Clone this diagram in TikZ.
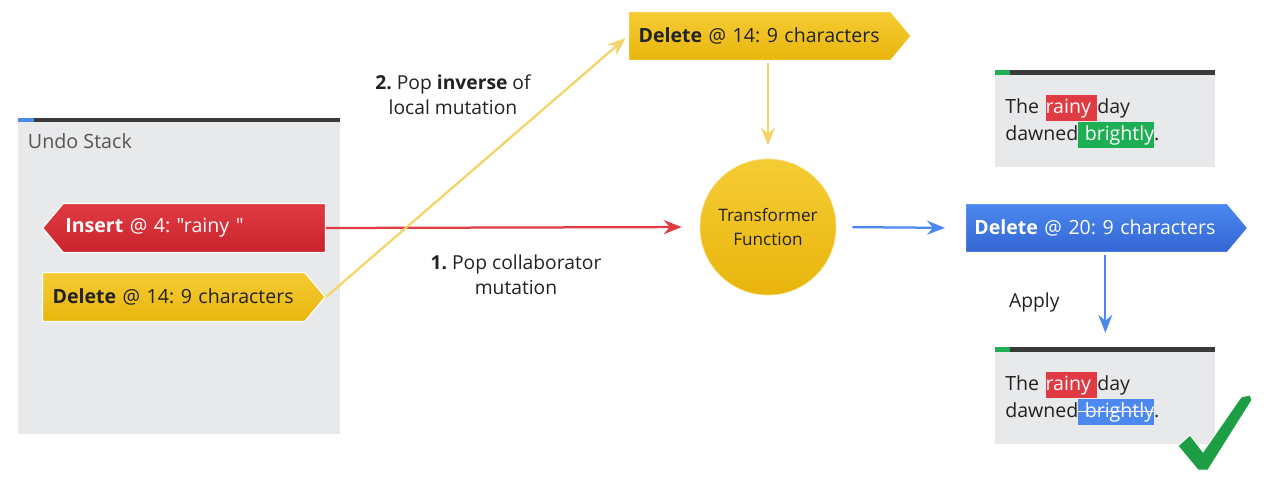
\documentclass[tikz,border=0pt]{standalone}
\usepackage{fontspec}
\setmainfont{Open Sans}[Ligatures=TeXOff]
\usetikzlibrary{shapes.symbols,arrows.meta,positioning,calc}
\definecolor{gred}{HTML}{E03B43}
\definecolor{gredd}{HTML}{C9232D}
\definecolor{gyel}{HTML}{F6CC35}
\definecolor{gyeld}{HTML}{E8B50C}
\definecolor{gblue}{HTML}{4C88EF}
\definecolor{gblued}{HTML}{3466D4}
\definecolor{ggreen}{HTML}{1EAF55}
\definecolor{gcheck}{HTML}{1D9E45}
\definecolor{panel}{HTML}{E8E9EB}
\definecolor{bar}{HTML}{3A3A3A}
\definecolor{ink}{HTML}{222222}
\definecolor{inkgray}{HTML}{555555}
\definecolor{lineyel}{HTML}{F4D466}
\frenchspacing
\newcommand{\hlt}[2]{{\setlength{\fboxsep}{0pt}\colorbox{#1}{\rule[-0.37em]{0pt}{1.32em}\textcolor{white}{#2}}}}
\newsavebox{\strikebox}
\newcommand{\strike}[1]{\sbox{\strikebox}{#1}\rlap{\rule[0.28em]{\wd\strikebox}{0.7pt}}\usebox{\strikebox}}

\begin{document}
\begin{tikzpicture}[
    x=0.025cm, y=-0.025cm,
    tag/.style={signal, signal pointer angle=100, minimum height=1.225cm, draw=white, line width=0.8pt,
                align=left, inner ysep=0pt, font=\fontsize{13.9}{16}\selectfont},
    redtag/.style={tag, signal to=west, top color=gred, bottom color=gredd, text=white,
                   inner xsep=0.05cm, text width=6.45cm},
    yeltag/.style={tag, signal to=east, top color=gyel, bottom color=gyeld, text=ink,
                   inner xsep=0.25cm, text width=6.05cm},
    bluetag/.style={tag, signal to=east, top color=gblue, bottom color=gblued, text=white,
                    inner xsep=0.22cm, text width=6.1cm},
    fn/.style={circle, minimum size=3.4cm, top color=gyel, bottom color=gyeld, draw=gyel!60,
               align=center, text=ink, font=\fontsize{12.2}{17}\selectfont},
    doc/.style={fill=panel, anchor=north west, minimum width=5.5cm, minimum height=2.3cm,
                text width=5cm, inner xsep=0.25cm, align=left, text=ink,
                font=\fontsize{13.9}{19}\selectfont},
    lbl/.style={align=center, text=ink, font=\fontsize{13.7}{18}\selectfont},
    arr/.style={-{Stealth[length=4.5mm, width=3.5mm, inset=1.5mm]}, line width=1.6pt}
]
\useasboundingbox (0,0) rectangle (1267,483);

% undo stack
\node[fill=panel, anchor=north west, minimum width=8.05cm, minimum height=7.8cm, inner sep=0pt] (stack) at (18,122) {};
\fill[bar] (stack.north west) rectangle ++(322,-4);
\fill[gblue] (stack.north west) rectangle ++(16,-4);
\node[anchor=west, text=inkgray, font=\fontsize{14}{16}\selectfont] (stacktitle) at (23,141) {Undo Stack};

\node[redtag, anchor=west] (ins) at (42,228) {\textbf{Insert} @ 4: "rainy "};
\node[yeltag, anchor=west] (del) at (42,297) {\textbf{Delete} @ 14: 9 characters};

% transform
\node[yeltag, anchor=west] (pop) at (628,36) {\textbf{Delete} @ 14: 9 characters};
\node[fn] (tf) at (768,227) {Transformer\\Function};
\node[bluetag, anchor=west] (out) at (965,228) {\textbf{Delete} @ 20: 9 characters};

% documents
\node[doc] (d1) at (995,75) {The \hlt{gred}{rainy\ }day\\dawned\hlt{ggreen}{\ brightly}.};
\fill[bar] (d1.north west) rectangle ++(220,-5);
\fill[ggreen] (d1.north west) rectangle ++(15,-5);
\node[doc] (d2) at (995,352) {The \hlt{gred}{rainy\ }day\\dawned\hlt{gblue}{\strike{\ brightly}}.};
\fill[bar] (d2.north west) rectangle ++(220,-5);
\fill[ggreen] (d2.north west) rectangle ++(15,-5);

\draw[arr, gred, shorten >=0.45cm] (ins.east) -- (tf.west);
\draw[arr, lineyel, shorten >=0.08cm] (del.east) -- (pop.west);
\draw[arr, lineyel, shorten <=0.05cm, shorten >=0.33cm] (pop.south -| tf.north) -- (tf.north);
\draw[arr, gblue, shorten <=0.4cm, shorten >=0.5cm] (tf.east) -- (out.west);
\draw[arr, gblue, shorten <=0.05cm, shorten >=0.48cm] (out.south -| d2.north) -- (d2.north)
    node[lbl, midway, left=1cm] (apply) {Apply};

\node[lbl] (popinv) at (453,95) {\textbf{2.} Pop \textbf{inverse} of\\local mutation};
\node[lbl] (popcol) at (516,275) {\textbf{1.} Pop collaborator\\mutation};

% check mark
\fill[gcheck, draw=white, line width=0.6pt] (1178,446) -- (1190,435) -- (1203,452) -- (1241,397)
    -- (1250,395) -- (1252,400) -- (1208,470) -- (1198,470) -- cycle;
\end{tikzpicture}
\end{document}
